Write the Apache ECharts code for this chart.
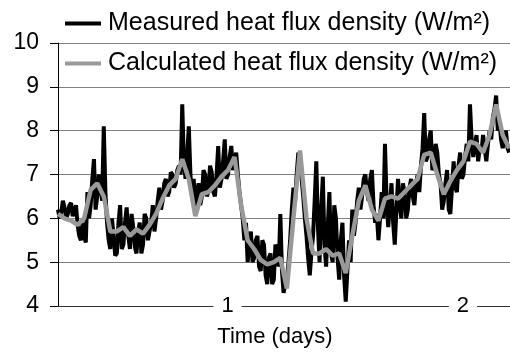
<!DOCTYPE html>
<html>
<head>
<meta charset="utf-8">
<script src="https://cdn.jsdelivr.net/npm/echarts@6/dist/echarts.min.js"></script>
<style>
  html, body { margin: 0; padding: 0; background: #fff; }
  #chart { width: 510px; height: 354px; }
</style>
</head>
<body>
<div id="chart"></div>
<script>
// time in days, measured every 10 min, calculated every 40 min
const tStart = 0.28;
const measuredStep = 1 / 144;
const calculatedStep = 1 / 36;
const dayTicks = [1, 2];

const measured = [
  6.2, 6.0, 6.15, 6.4, 6.25, 6.0, 6.1, 6.3, 6.35, 6.05,
  6.15, 6.3, 5.85, 5.6, 5.5, 5.9, 5.6, 5.45, 6.6, 6.0,
  6.3, 6.9, 7.35, 6.2, 6.5, 7.0, 6.7, 6.4, 8.1, 6.6,
  5.9, 5.5, 5.3, 6.0, 5.6, 5.15, 5.2, 5.9, 6.3, 5.3,
  5.4, 5.9, 6.25, 5.6, 5.3, 6.1, 5.8, 5.35, 5.2, 5.7,
  5.9, 5.2, 5.4, 6.1, 6.0, 5.5, 5.5, 5.9, 6.3, 5.7,
  6.0, 6.4, 6.7, 6.2, 6.4, 6.8, 6.9, 6.5, 6.6, 7.05,
  7.0, 6.7, 6.8, 7.1, 7.2, 7.0, 8.6, 7.3, 6.9, 7.4,
  8.1, 7.0, 6.5, 6.9, 6.2, 6.6, 6.8, 6.3, 6.5, 7.1,
  7.0, 6.5, 6.6, 7.2, 7.05, 6.6, 6.5, 7.0, 7.65, 6.7,
  6.9, 7.3, 7.8, 6.9, 7.0, 7.4, 7.65, 7.1, 7.3, 7.5,
  7.0, 6.6, 6.3, 6.0, 5.5, 5.9, 5.0, 5.4, 5.7, 5.0,
  5.1, 5.5, 5.6, 4.9, 4.8, 5.5, 5.4, 4.7, 4.5, 5.1,
  5.2, 4.5, 4.6, 5.4, 5.3, 4.9, 6.1, 4.8, 4.3, 4.5,
  4.6, 5.0, 5.5, 6.2, 6.7, 6.4, 7.0, 7.5, 7.4, 6.9,
  6.5, 6.0, 5.6, 5.1, 4.7, 5.2, 5.6, 6.4, 7.3, 5.8,
  5.0, 6.2, 6.95, 5.4, 4.9, 5.8, 6.6, 5.2, 5.0, 6.3,
  6.0, 5.1, 4.6, 5.5, 5.9, 4.7, 4.1, 4.8, 5.5, 5.0,
  6.2, 5.6, 5.9, 6.4, 6.7, 6.2, 6.5, 6.9, 7.0, 6.6,
  6.4, 6.9, 7.1, 6.3, 5.9, 6.1, 5.5, 6.0, 6.6, 6.0,
  7.7, 6.4, 5.8, 6.3, 6.8, 5.9, 5.4, 6.2, 6.9, 6.3,
  6.0, 6.8, 6.6, 6.0, 6.2, 6.7, 6.9, 6.5, 6.3, 6.8,
  7.0, 6.6, 7.2, 7.6, 8.4, 7.3, 7.4, 7.8, 8.0, 7.1,
  7.2, 7.7, 7.5, 7.0, 6.8, 6.2, 6.4, 6.8, 7.1, 6.2,
  6.1, 6.7, 7.3, 6.7, 6.6, 7.2, 7.5, 6.9, 7.0, 7.4,
  7.7, 7.3, 8.6, 7.8, 7.4, 7.7, 7.9, 7.3, 7.6, 7.5,
  7.9, 7.6, 7.3, 7.7, 8.0, 7.8, 8.3, 8.5, 8.8, 8.0,
  8.2, 7.8, 7.6, 7.8, 8.0, 7.6, 7.5
];

const calculated = [
  6.1, 6.0, 5.95, 5.85, 6.0, 6.65, 6.8, 6.5, 5.7, 5.7,
  5.8, 5.6, 5.75, 5.65, 5.85, 6.1, 6.45, 6.75, 6.9, 7.35,
  6.9, 6.05, 6.55, 6.6, 6.75, 6.95, 7.1, 7.4, 6.3, 5.5,
  5.3, 5.05, 4.95, 5.0, 5.1, 4.4, 6.0, 7.55, 6.0, 5.2,
  5.2, 5.3, 5.15, 5.2, 4.75, 5.6, 6.4, 6.75, 6.2, 5.95,
  6.45, 6.5, 6.45, 6.6, 6.75, 6.9, 7.45, 7.5, 7.0, 6.55,
  6.85, 7.1, 7.3, 7.75, 7.7, 7.5, 7.9, 8.6, 7.9, 7.6
];

const measuredName = 'Measured heat flux density (W/m²)';
const calculatedName = 'Calculated heat flux density (W/m²)';

const chart = echarts.init(document.getElementById('chart'));

const option = {
  animation: false,
  backgroundColor: '#fff',
  textStyle: { fontFamily: 'Liberation Sans, Arial, sans-serif' },
  grid: { left: 58, right: 0, top: 43, bottom: 48 },
  legend: {
    orient: 'vertical',
    left: 65,
    top: 11,
    padding: 0,
    icon: 'rect',
    itemWidth: 36,
    itemHeight: 4,
    itemGap: 15,
    data: [measuredName, calculatedName],
    textStyle: { fontSize: 25, color: '#000', padding: [0, 0, 0, 2] }
  },
  xAxis: {
    type: 'value',
    min: tStart,
    max: 2.2,
    z: 5,
    name: 'Time (days)',
    nameLocation: 'middle',
    nameGap: 20,
    nameTextStyle: { fontSize: 22, color: '#000', padding: [0, 18, 0, 0] },
    axisLine: { show: true, lineStyle: { color: '#333', width: 1 } },
    axisTick: { show: false },
    splitLine: { show: false },
    axisLabel: {
      customValues: dayTicks,
      fontSize: 22,
      color: '#000',
      margin: 0,
      verticalAlign: 'middle',
      backgroundColor: '#fff',
      padding: [0, 8]
    }
  },
  yAxis: {
    type: 'value',
    min: 4,
    max: 10,
    interval: 1,
    axisLine: { show: true, lineStyle: { color: '#000', width: 1 } },
    axisTick: { show: true, length: 8, lineStyle: { color: '#000' } },
    axisLabel: { fontSize: 23, color: '#000', margin: 19 },
    splitLine: { show: true, lineStyle: { color: '#808080', width: 1 } }
  },
  series: [
    {
      name: measuredName,
      type: 'line',
      showSymbol: false,
      color: '#000',
      lineStyle: { color: '#000', width: 4 },
      data: measured.map((v, i) => [tStart + i * measuredStep, v])
    },
    {
      name: calculatedName,
      type: 'line',
      showSymbol: false,
      color: '#999',
      lineStyle: { color: '#999', width: 4.5 },
      data: calculated.map((v, i) => [tStart + i * calculatedStep, v])
    }
  ]
};

chart.setOption(option);
</script>
</body>
</html>
